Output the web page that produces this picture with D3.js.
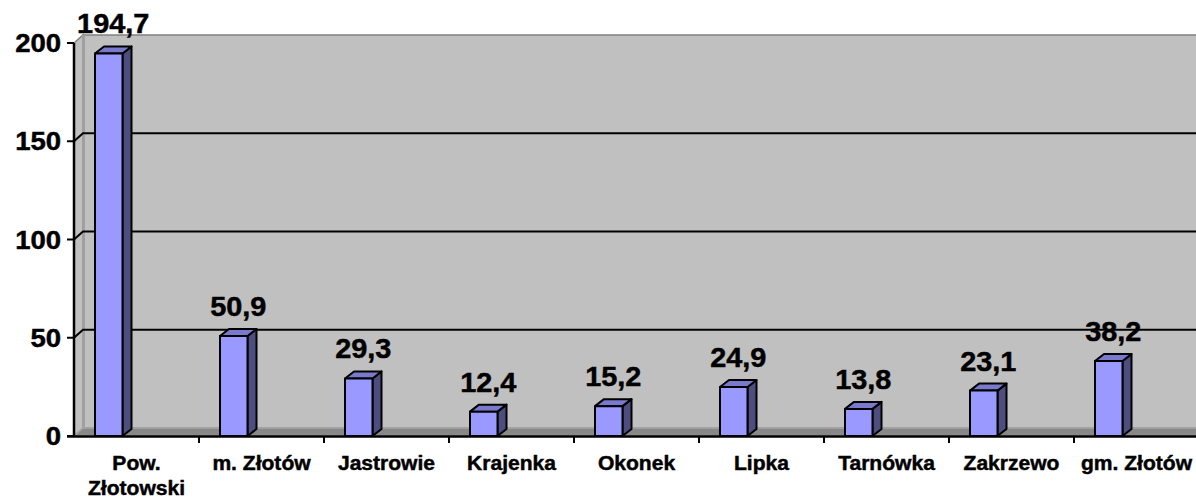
<!DOCTYPE html>
<html><head><meta charset="utf-8">
<script src="https://cdn.jsdelivr.net/npm/d3@7"></script>
<style>html,body{margin:0;padding:0;background:#fff;}svg{display:block;}</style>
</head><body>
<svg id="chart" width="1196" height="501"></svg>
<script>
const categories = ["Pow.\nZłotowski","m. Złotów","Jastrowie","Krajenka","Okonek","Lipka","Tarnówka","Zakrzewo","gm. Złotów"];
const values = [194.7,50.9,29.3,12.4,15.2,24.9,13.8,23.1,38.2];
const valueLabels = ["194,7","50,9","29,3","12,4","15,2","24,9","13,8","23,1","38,2"];
const yTicks = [0,50,100,150,200];

const svg = d3.select("#chart");
const W = 1196, H = 501;
const x0 = 74, x1 = 1199, yBase = 436, yTop = 43;
const dx = 9, dy = -8;      // wall depth
const bdx = 9, bdy = -7;    // bar depth
const FONT = "Liberation Sans, Arial, sans-serif";

const x = d3.scaleBand().domain(categories).range([x0, x1]).paddingInner(0).paddingOuter(0);
const y = d3.scaleLinear().domain([0,200]).range([yBase, yTop]);
const bw = x.bandwidth();

function txt(px, py, size, stretch, anchor, s) {
  return svg.append("text").attr("transform",`translate(${px},${py}) scale(${stretch},1)`)
    .attr("text-anchor",anchor).attr("font-family",FONT).attr("font-weight","bold")
    .attr("font-size",size).attr("fill","#000").attr("stroke","#000").attr("stroke-width",0.45).text(s);
}

// back wall
svg.append("rect").attr("x", x0+dx).attr("y", y(200)+dy).attr("width", x1 - x0 + 20).attr("height", y(0)-y(200))
  .attr("fill","#c0c0c0").attr("stroke","#808080").attr("stroke-width",1.5);
// left wall
svg.append("path").attr("d", `M${x0},${y(200)} L${x0+dx},${y(200)+dy} L${x0+dx},${y(0)+dy} L${x0},${y(0)} Z`)
  .attr("fill","#c0c0c0").attr("stroke","#808080").attr("stroke-width",1.5);
svg.append("line").attr("x1",x0+dx+0.5).attr("x2",x0+dx+0.5).attr("y1",y(200)+dy).attr("y2",y(0)+dy)
  .attr("stroke","#a0a0a0").attr("stroke-width",3);
// floor
svg.append("path").attr("d", `M${x0},${y(0)} L${x0+dx},${y(0)+dy} L${x1+dx+20},${y(0)+dy} L${x1+20},${y(0)} Z`)
  .attr("fill","#888888").attr("stroke","#a8a8a8").attr("stroke-width",1.5);

// gridlines
yTicks.filter(t => t>0 && t<200).forEach(t => {
  svg.append("path").attr("d", `M${x0},${y(t)} L${x0+dx},${y(t)+dy} L${W+10},${y(t)+dy}`)
    .attr("fill","none").attr("stroke","#000").attr("stroke-width",2);
});

// bars
const g = svg.append("g");
values.forEach((v,i) => {
  const c = categories[i];
  const bx = x(c) + bw*0.168, bwid = bw*0.22;
  const top = y(v), bot = y(0);
  const grp = g.append("g").attr("stroke","#000").attr("stroke-width",2).attr("stroke-linejoin","round");
  grp.append("path").attr("d", `M${bx+bwid},${top} L${bx+bwid+bdx},${top+bdy} L${bx+bwid+bdx},${bot+bdy} L${bx+bwid},${bot} Z`).attr("fill","#4d4d80");
  grp.append("path").attr("d", `M${bx},${top} L${bx+bdx},${top+bdy} L${bx+bwid+bdx},${top+bdy} L${bx+bwid},${top} Z`).attr("fill","#7a7acc");
  grp.append("rect").attr("x",bx).attr("y",top).attr("width",bwid).attr("height",bot-top).attr("fill","#9999ff");
  txt(bx+(bwid+bdx)/2, top+bdy-13, 27, 1.07, "middle", valueLabels[i]);
});

// y axis
svg.append("line").attr("x1",x0).attr("x2",x0).attr("y1",y(200)).attr("y2",y(0)+1).attr("stroke","#000").attr("stroke-width",2.5);
yTicks.forEach(t => {
  svg.append("line").attr("x1",x0-7).attr("x2",x0).attr("y1",y(t)).attr("y2",y(t)).attr("stroke","#000").attr("stroke-width",2);
  txt(x0-13, y(t)+9, 25, 1.1, "end", t);
});

// x axis
svg.append("line").attr("x1",x0-7).attr("x2",W).attr("y1",y(0)+0.5).attr("y2",y(0)+0.5).attr("stroke","#000").attr("stroke-width",2.5);
categories.forEach((c,i) => {
  const tx = x(c);
  if (i>0) svg.append("line").attr("x1",tx).attr("x2",tx).attr("y1",y(0)).attr("y2",y(0)+7).attr("stroke","#000").attr("stroke-width",2);
  c.split("\n").forEach((line,j) => {
    txt(tx+bw/2, 470+j*25, 19.5, 1.08, "middle", line);
  });
});
</script>
</body></html>
